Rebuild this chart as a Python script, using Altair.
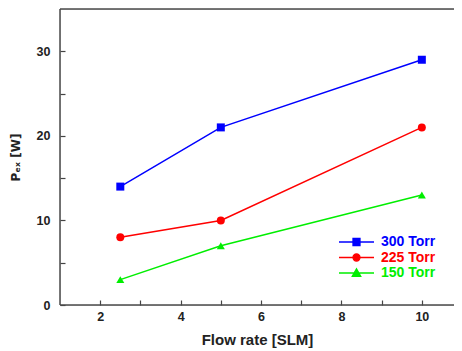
import altair as alt
import pandas as pd

flow = [2.5, 5, 10]
p300 = [14, 21, 29]
p225 = [8, 10, 21]
p150 = [3, 7, 13]
series = ["300 Torr", "225 Torr", "150 Torr"]
colors = ["#0000ff", "#ff0000", "#00ee00"]
shapes = ["square", "circle", "triangle-up"]
x_ticks = [2, 3, 4, 5, 6, 7, 8, 9, 10]
y_ticks = [0, 5, 10, 15, 20, 25, 30]
x_domain = [1, 10.8]
y_domain = [0, 35]

rows = []
for name, vals in zip(series, [p300, p225, p150]):
    for f, v in zip(flow, vals):
        rows.append({"flow": f, "P": v, "series": name, "marker": name})
df = pd.DataFrame(rows)

W, H = 394, 296

# legend symbols: a line segment with the marker in its middle (scale = 5 px / unit)
sq = "M-1,0H6M1.8,-0.7H3.2V0.7H1.8Z"
ci = "M-1,0H6M3.2,0A0.7,0.7 0 1,1 1.8,0A0.7,0.7 0 1,1 3.2,0Z"
tr = "M-1,0H6M2.5,-0.85L3.35,0.65L1.65,0.65Z"
shape_expr = (
    f"datum.value === '{series[0]}' ? '{sq}' : "
    f"datum.value === '{series[1]}' ? '{ci}' : '{tr}'"
)
color_expr = "scale('color', datum.value)"

FONT = "Liberation Sans"

x_enc = alt.X(
    "flow:Q",
    scale=alt.Scale(domain=x_domain, nice=False, zero=False),
    axis=alt.Axis(
        values=x_ticks,
        labelExpr="datum.value % 2 == 0 ? datum.label : ''",
        offset=-5, tickSize=5, domain=False, grid=False,
        tickColor="#444", tickWidth=1.2,
        labelPadding=5, labelFont=FONT, labelFontSize=12.5, labelFontWeight="bold",
        labelColor="#222", labelOverlap=False, labelFlush=False,
        title="Flow rate [SLM]", titleFont=FONT, titleFontSize=15,
        titleFontWeight="bold", titleColor="#222", titlePadding=10,
    ),
)
y_enc = alt.Y(
    "P:Q",
    scale=alt.Scale(domain=y_domain, nice=False),
    axis=alt.Axis(
        values=y_ticks,
        labelExpr="datum.value % 10 == 0 ? datum.label : ''",
        offset=-5, tickSize=5, domain=False, grid=False,
        tickColor="#444", tickWidth=1.2,
        labelPadding=10, labelFont=FONT, labelFontSize=12.5, labelFontWeight="bold",
        labelColor="#222", labelOverlap=False, labelFlush=False,
        title="Pₑₓ [W]", titleFont="DejaVu Sans", titleFontSize=12,
        titleFontWeight="bold", titleColor="#222", titlePadding=14,
    ),
)
color_scale = alt.Scale(domain=series, range=colors)
line_color = alt.Color(
    "series:N",
    scale=color_scale,
    legend=alt.Legend(
        title=None, orient="none", legendX=277, legendY=226, padding=0,
        rowPadding=1.5, labelOffset=30,
        labelFont=FONT, labelFontSize=14, labelFontWeight="bold",
        labelColor={"expr": color_expr},
        symbolType={"expr": shape_expr},
        symbolFillColor={"expr": color_expr},
        symbolStrokeColor={"expr": color_expr},
        symbolStrokeWidth=1.3,
        symbolOpacity=1,
        symbolSize=100,
    ),
)
point_color = alt.Color("series:N", scale=color_scale, legend=None)

lines = alt.Chart(df).mark_line(strokeWidth=1.5).encode(
    x=x_enc, y=y_enc, color=line_color, detail="series:N"
)
points = alt.Chart(df).mark_point(filled=True, opacity=1, size=64).encode(
    x=x_enc, y=y_enc, color=point_color,
    shape=alt.Shape("marker:N", scale=alt.Scale(domain=series, range=shapes), legend=None),
)

frame_df = pd.DataFrame({"k": [0]})
frame_style = dict(color="#4a4a4a", strokeWidth=1.5)
top = alt.Chart(frame_df).mark_rule(**frame_style).encode(
    x=alt.value(0), x2=alt.value(W), y=alt.value(0))
left = alt.Chart(frame_df).mark_rule(**frame_style).encode(
    x=alt.value(0), y=alt.value(0), y2=alt.value(H))
bottom = alt.Chart(frame_df).mark_rule(**frame_style).encode(
    x=alt.value(0), x2=alt.value(W), y=alt.value(H))

chart = (
    alt.layer(lines, points, top, left, bottom)
    .resolve_legend(color="independent")
    .properties(
        width=W, height=H,
        autosize=alt.AutoSizeParams(type="none"),
        padding={"left": 52, "top": 1, "right": 0, "bottom": 46},
    )
    .configure_view(stroke=None)
    .configure(background="white")
)

chart.save("out.html", embed_options={"renderer": "svg", "actions": False})
